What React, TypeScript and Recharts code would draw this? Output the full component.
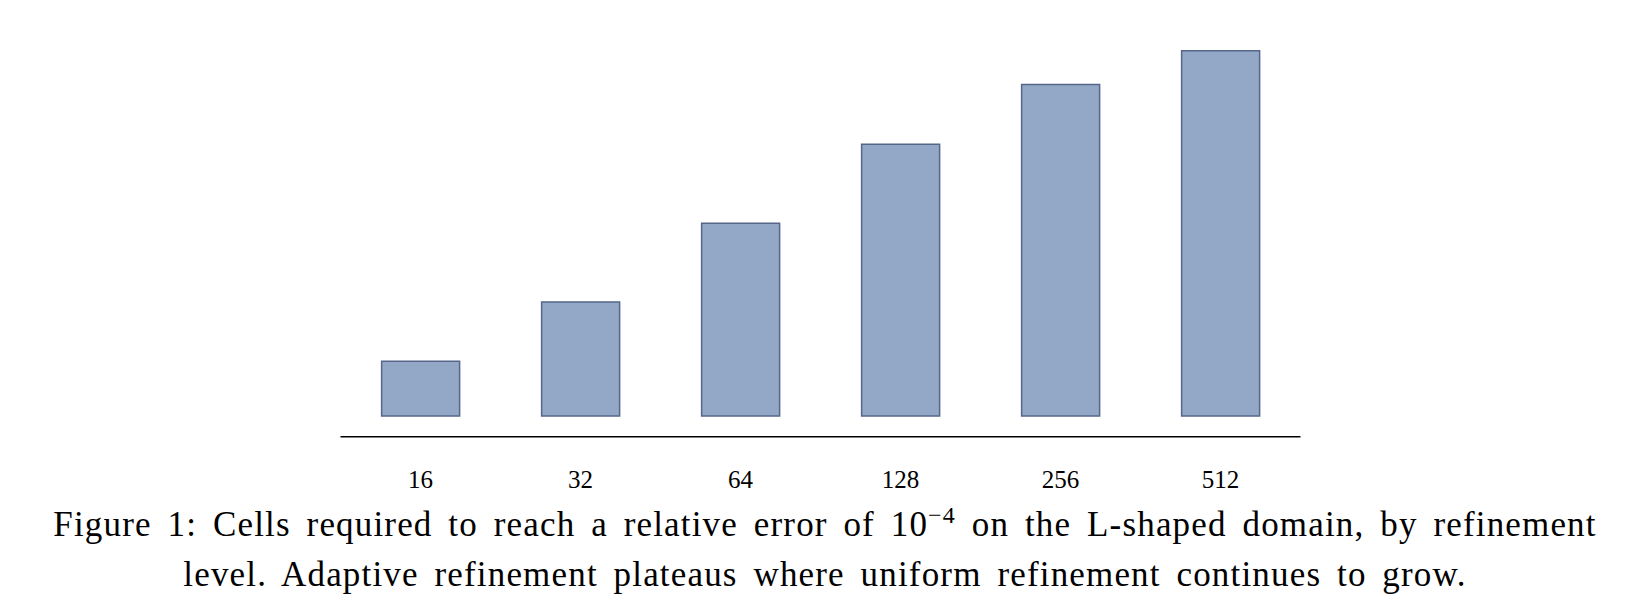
import React from "react";
import { BarChart, Bar, XAxis, YAxis } from "recharts";

// refinement levels and cells needed (no y axis shown)
const levels = ["16", "32", "64", "128", "256", "512"];
const cells = [1020, 2120, 3590, 5060, 6170, 6800];

const data = levels.map((level, i) => ({ level, cells: cells[i] }));

const serif = "'Liberation Serif', 'DejaVu Serif', serif";

export default function App() {
  return (
    <div
      style={{
        position: "absolute",
        left: 0,
        top: 0,
        width: 1650,
        height: 610,
        background: "#fff",
        fontFamily: serif,
      }}
    >
      <BarChart
        width={1650}
        height={500}
        data={data}
        barCategoryGap="25.7%"
        margin={{ top: 50.7, right: 349.5, bottom: 33.3, left: 340.5 }}
      >
        <XAxis
          dataKey="level"
          height={30}
          tickLine={false}
          tickSize={0}
          tickMargin={34}
          axisLine={{ stroke: "#000", strokeWidth: 1.5 }}
          tick={{ fill: "#000", fontSize: 25, fontFamily: serif }}
        />
        <YAxis hide domain={[0, 6800]} padding={{ top: 0, bottom: 20.7 }} />
        <Bar
          dataKey="cells"
          fill="#93A8C6"
          stroke="#56668A"
          strokeWidth={1.5}
          isAnimationActive={false}
        />
      </BarChart>

      {/* caption, two lines as in the figure */}
      <div
        style={{
          position: "absolute",
          left: 0,
          top: 500,
          width: 1650,
          textAlign: "center",
          fontSize: 35,
          letterSpacing: 1.17,
          wordSpacing: 5.9,
          lineHeight: "50px",
          color: "#000",
        }}
      >
        <div>
          Figure 1: Cells required to reach a relative error of 10
          <sup style={{ fontSize: 24, lineHeight: 0 }}>−4</sup> on the
          L-shaped domain, by refinement
        </div>
        <div>
          level. Adaptive refinement plateaus where uniform refinement
          continues to grow.
        </div>
      </div>
    </div>
  );
}
